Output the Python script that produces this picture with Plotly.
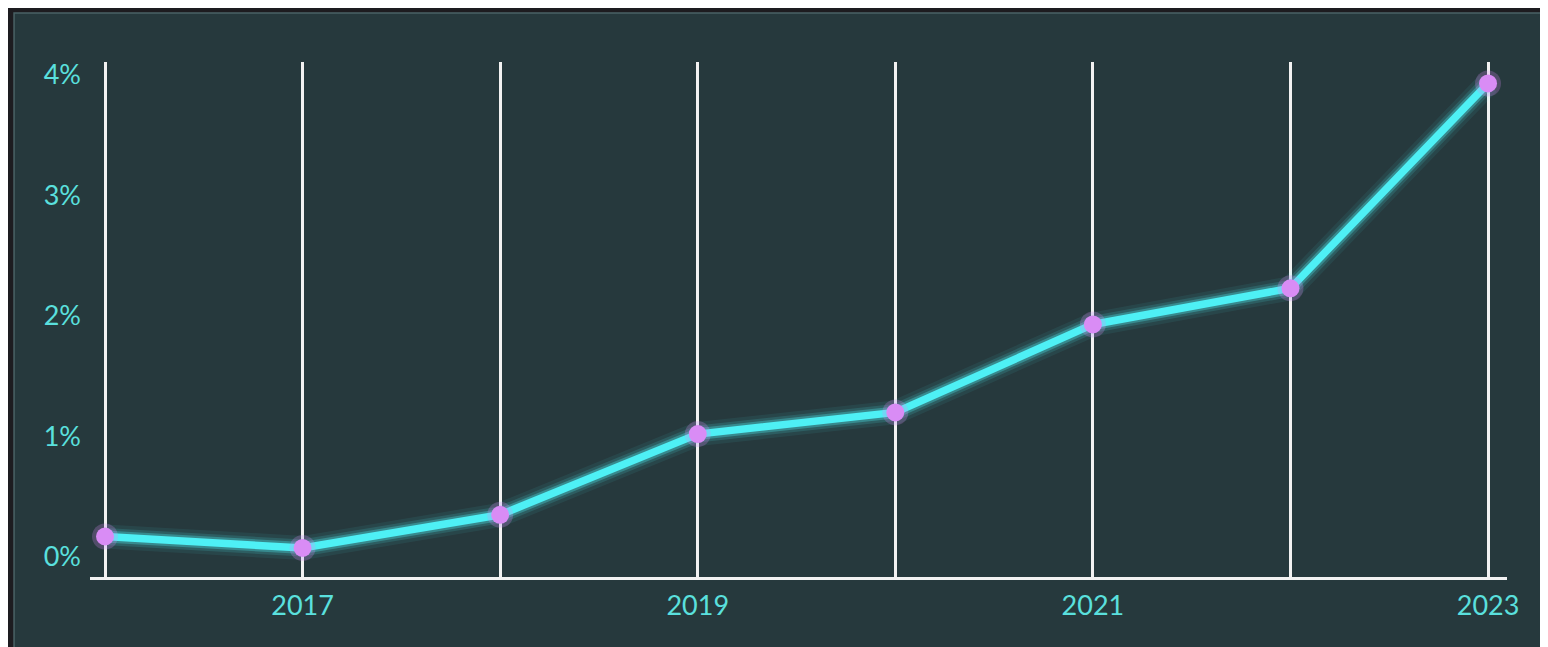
import plotly.graph_objects as go

years = [2016, 2017, 2018, 2019, 2020, 2021, 2022, 2023]
values = [0.17, 0.075, 0.35, 1.02, 1.20, 1.93, 2.23, 3.93]
x_labels = ["", "2017", "", "2019", "", "2021", "", "2023"]
y_ticks = [0, 1, 2, 3, 4]
y_labels = ["0%", "1%", "2%", "3%", "4%"]

line_color = "#4ef0f5"
marker_color = "#d98cf5"
text_color = "#5ae0de"
grid_color = "#f2f2f2"

fig = go.Figure()

# glow layers
for w, op in [(24, 0.07), (17, 0.14), (12, 0.3)]:
    fig.add_trace(go.Scatter(x=years, y=values, mode="lines",
                             line=dict(color=line_color, width=w),
                             opacity=op, hoverinfo="skip", showlegend=False))
fig.add_trace(go.Scatter(x=years, y=values, mode="lines",
                         line=dict(color=line_color, width=7.5),
                         showlegend=False))
fig.add_trace(go.Scatter(x=years, y=values, mode="markers",
                         marker=dict(color=marker_color, size=26, opacity=0.25),
                         hoverinfo="skip", showlegend=False))
fig.add_trace(go.Scatter(x=years, y=values, mode="markers",
                         marker=dict(color=marker_color, size=18),
                         showlegend=False))

# panel background
fig.add_shape(type="rect", xref="paper", yref="paper",
              x0=-0.0536, x1=1.2, y0=-0.3, y1=1.095,
              fillcolor="#26393d", line=dict(color="#4a6266", width=1.5),
              layer="below")

fig.update_layout(
    width=1548, height=647,
    paper_bgcolor="#1d1c20",
    plot_bgcolor="rgba(0,0,0,0)",
    margin=dict(l=82, r=49, t=54, b=78),
    font=dict(family="Lato, sans-serif", size=27, color=text_color),
    xaxis=dict(range=[2015.924, 2023.096], tickvals=years, ticktext=x_labels,
               showgrid=True, gridcolor=grid_color, gridwidth=3,
               showline=True, linecolor=grid_color, linewidth=3,
               zeroline=False, ticks="", ticklabelstandoff=3,
               tickfont=dict(size=27, color=text_color)),
    yaxis=dict(range=[-0.166, 4.108], tickvals=y_ticks, ticktext=y_labels,
               showgrid=False, zeroline=False, showline=False, ticks="",
               ticklabelstandoff=8,
               tickfont=dict(size=27, color=text_color)),
)

fig.write_html("out.html")
